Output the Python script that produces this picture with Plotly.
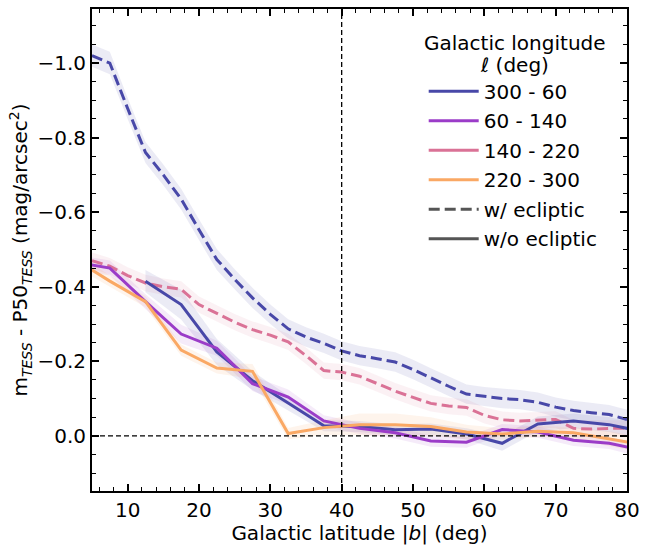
import plotly.graph_objects as go

# ---------------- data ----------------
# solid lines (w/o ecliptic), bins of 5 deg
x_solid = [2.5, 7.5, 12.5, 17.5, 22.5, 27.5, 32.5, 37.5, 42.5, 47.5, 52.5, 57.5, 62.5, 67.5, 72.5, 77.5, 82.5]
y_300_60 = [None, None, -0.415, -0.352, -0.225, -0.148, -0.088, -0.027, -0.025, -0.016, -0.018, -0.005, 0.020, -0.032, -0.040, -0.030, -0.010]
e_300_60 = [0.02, 0.02, 0.03, 0.04, 0.035, 0.025, 0.02, 0.015, 0.015, 0.015, 0.015, 0.015, 0.02, 0.02, 0.02, 0.02, 0.02]
y_60_140 = [-0.467, -0.450, -0.360, -0.273, -0.235, -0.140, -0.104, -0.040, -0.020, -0.008, 0.014, 0.017, -0.017, -0.010, 0.012, 0.020, 0.040]
e_60_140 = [0.02, 0.02, 0.02, 0.025, 0.02, 0.02, 0.02, 0.015, 0.015, 0.015, 0.015, 0.015, 0.015, 0.015, 0.015, 0.015, 0.02]
y_220_300 = [-0.475, -0.415, -0.360, -0.230, -0.182, -0.173, -0.006, -0.022, -0.030, -0.030, -0.025, -0.010, -0.005, -0.012, -0.008, 0.008, 0.025]
e_220_300 = [0.02, 0.015, 0.015, 0.015, 0.015, 0.02, 0.015, 0.02, 0.03, 0.03, 0.025, 0.02, 0.015, 0.015, 0.015, 0.02, 0.02]

# dashed lines (w/ ecliptic), finer sampling
x_dash = [5, 7.5, 10, 12.5, 15, 17.5, 20, 22.5, 25, 27.5, 30, 32.5, 35, 37.5, 40, 42.5, 45, 47.5, 50, 52.5, 55, 57.5, 60, 62.5, 65, 67.5, 70, 72.5, 75, 77.5, 80]
y_300_60_ecl = [-1.02, -1.00, -0.878, -0.76, -0.70, -0.635, -0.553, -0.473, -0.42, -0.37, -0.326, -0.287, -0.265, -0.248, -0.228, -0.215, -0.207, -0.198, -0.178, -0.155, -0.133, -0.112, -0.105, -0.100, -0.097, -0.090, -0.077, -0.068, -0.062, -0.057, -0.044]
e_300_60_ecl = [0.03, 0.03, 0.028, 0.028, 0.028, 0.028, 0.028, 0.028, 0.027, 0.027, 0.026, 0.026, 0.026, 0.026, 0.026, 0.026, 0.026, 0.026, 0.026, 0.026, 0.026, 0.026, 0.026, 0.026, 0.026, 0.026, 0.026, 0.026, 0.026, 0.026, 0.026]
y_140_220_ecl = [-0.470, -0.455, -0.430, -0.410, -0.400, -0.393, -0.352, -0.328, -0.305, -0.285, -0.270, -0.252, -0.215, -0.175, -0.171, -0.160, -0.140, -0.120, -0.103, -0.087, -0.080, -0.076, -0.055, -0.043, -0.040, -0.042, -0.044, -0.020, -0.018, -0.020, -0.020]
e_140_220_ecl = [0.022, 0.022, 0.022, 0.022, 0.022, 0.022, 0.022, 0.022, 0.022, 0.022, 0.022, 0.022, 0.022, 0.022, 0.022, 0.022, 0.022, 0.022, 0.022, 0.022, 0.022, 0.022, 0.022, 0.022, 0.022, 0.022, 0.022, 0.022, 0.022, 0.022, 0.022]

legend_labels = ["300 - 60", "60 - 140", "140 - 220", "220 - 300"]
legend_title_1 = "Galactic longitude"
legend_title_2 = "<i>ℓ</i> (deg)"
colors = ["rgb(72,72,168)", "rgb(155,60,200)", "rgb(218,114,150)", "rgb(250,168,100)"]
bands = ["rgba(72,72,168,0.11)", "rgba(155,60,200,0.10)", "rgba(218,114,150,0.10)", "rgba(250,168,100,0.12)"]

FONT = "DejaVu Sans"
FS = 20
DASH = "11px,5px"

fig = go.Figure()


def add_band(x, y, e, fillcolor):
    xs, lo, hi = [], [], []
    for xi, yi, ei in zip(x, y, e):
        if yi is None:
            continue
        xs.append(xi)
        lo.append(yi - ei)
        hi.append(yi + ei)
    fig.add_trace(go.Scatter(x=xs + xs[::-1], y=hi + lo[::-1], fill="toself",
                             fillcolor=fillcolor, line=dict(width=0),
                             hoverinfo="skip", showlegend=False, mode="lines"))


def add_line(x, y, color, dash):
    xs = [xi for xi, yi in zip(x, y) if yi is not None]
    ys = [yi for yi in y if yi is not None]
    fig.add_trace(go.Scatter(x=xs, y=ys, mode="lines", showlegend=False,
                             line=dict(color=color, width=3, dash=dash)))


# bands
add_band(x_dash, y_300_60_ecl, e_300_60_ecl, bands[0])
add_band(x_dash, y_140_220_ecl, e_140_220_ecl, bands[2])
add_band(x_solid, y_300_60, e_300_60, bands[0])
add_band(x_solid, y_60_140, e_60_140, bands[1])
add_band(x_solid, y_220_300, e_220_300, bands[3])

# lines
add_line(x_dash, y_300_60_ecl, colors[0], DASH)
add_line(x_dash, y_140_220_ecl, colors[2], DASH)
add_line(x_solid, y_300_60, colors[0], "solid")
add_line(x_solid, y_60_140, colors[1], "solid")
add_line(x_solid, y_220_300, colors[3], "solid")

# legend entries
for i, (lab, col) in enumerate(zip(legend_labels, colors)):
    fig.add_trace(go.Scatter(x=[None], y=[None], mode="lines", name=lab,
                             legendgroup="g%d" % i,
                             line=dict(color=col, width=3)))
fig.add_trace(go.Scatter(x=[None], y=[None], mode="lines", name="w/ ecliptic",
                         legendgroup="g4", line=dict(color="rgb(85,85,85)", width=3, dash=DASH)))
fig.add_trace(go.Scatter(x=[None], y=[None], mode="lines", name="w/o ecliptic",
                         legendgroup="g5", line=dict(color="rgb(85,85,85)", width=3)))

# reference lines
fig.add_vline(x=40, line=dict(color="black", width=1.3, dash="5px,3px"))
fig.add_hline(y=0, line=dict(color="black", width=1.3, dash="5px,3px"))

axis_common = dict(
    showgrid=False, zeroline=False, showline=True, linecolor="black", linewidth=2,
    mirror="allticks", ticks="inside", ticklen=7, tickwidth=1.5, tickcolor="black",
    tickfont=dict(family=FONT, size=FS, color="black"),
)

fig.update_xaxes(range=[5, 80], dtick=10, tick0=0,
                 minor=dict(dtick=2, ticks="inside", ticklen=4, tickwidth=1, tickcolor="black"),
                 title=dict(text="Galactic latitude |<i>b</i>| (deg)", font=dict(family=FONT, size=FS, color="black"),
                            standoff=2),
                 **axis_common)
fig.update_yaxes(range=[0.148, -1.145], dtick=0.2, tick0=0, tickformat=".1f",
                 minor=dict(dtick=0.05, ticks="inside", ticklen=4, tickwidth=1, tickcolor="black"),
                 title=dict(text="m<sub><i>TESS</i></sub> - P50<sub><i>TESS</i></sub> (mag/arcsec<sup>2</sup>)",
                            font=dict(family=FONT, size=FS, color="black"), standoff=4),
                 **axis_common)

fig.add_annotation(text=legend_title_1, xref="paper", yref="paper", x=0.79, y=0.93,
                   xanchor="center", yanchor="middle", showarrow=False,
                   font=dict(family=FONT, size=FS, color="black"))
fig.add_annotation(text=legend_title_2, xref="paper", yref="paper", x=0.79, y=0.884,
                   xanchor="center", yanchor="middle", showarrow=False,
                   font=dict(family=FONT, size=FS, color="black"))

fig.update_layout(
    width=647, height=545,
    margin=dict(l=92, r=15, t=7, b=53),
    plot_bgcolor="white", paper_bgcolor="white",
    font=dict(family=FONT, size=FS, color="black"),
    legend=dict(
        x=0.62, y=0.870, xanchor="left", yanchor="top",
        bgcolor="rgba(255,255,255,0)", borderwidth=0,
        traceorder="grouped", tracegroupgap=0.5, itemwidth=50,
        font=dict(family=FONT, size=FS, color="black"),
    ),
)

fig.write_html("out.html")
